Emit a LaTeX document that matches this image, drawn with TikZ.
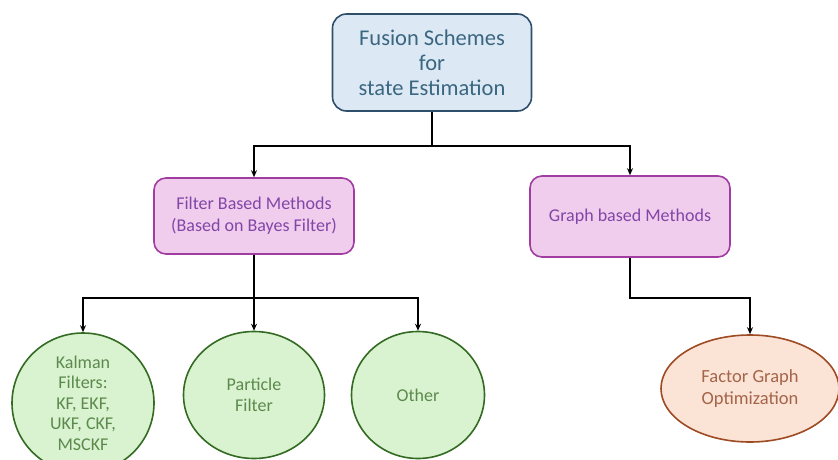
\documentclass[tikz,border=0pt]{standalone}
\usepackage{fontspec}
\setmainfont{Carlito}
\usetikzlibrary{arrows.meta,shapes.geometric}
\definecolor{topfill}{HTML}{DCE9F5}
\definecolor{topdraw}{HTML}{2F4F6B}
\definecolor{toptext}{HTML}{3A6680}
\definecolor{pinkfill}{HTML}{F0CDEC}
\definecolor{pinkdraw}{HTML}{A13DA0}
\definecolor{pinktext}{HTML}{8245A8}
\definecolor{greenfill}{HTML}{D9F2D0}
\definecolor{greendraw}{HTML}{336B22}
\definecolor{greentext}{HTML}{5C8A4C}
\definecolor{orfill}{HTML}{FBE3D6}
\definecolor{ordraw}{HTML}{9E4A22}
\definecolor{ortext}{HTML}{A4654A}
\tikzset{
  topbox/.style={draw=topdraw, fill=topfill, line width=1.6pt, rounded corners=14pt, minimum width=199pt, minimum height=97pt, text=toptext, font=\fontsize{22.5}{25}\selectfont, align=center, inner sep=0pt},
  pinkbox/.style={draw=pinkdraw, fill=pinkfill, line width=1.6pt, rounded corners=12pt, minimum width=200pt, text=pinktext, font=\fontsize{18}{22}\selectfont, align=center, inner sep=0pt},
  greenell/.style={ellipse, draw=greendraw, fill=greenfill, line width=1.6pt, text=greentext, font=\fontsize{18}{20.5}\selectfont, align=center, inner sep=0pt},
  orell/.style={ellipse, draw=ordraw, fill=orfill, line width=1.6pt, text=ortext, font=\fontsize{18.5}{22}\selectfont, align=center, inner sep=0pt},
  conn/.style={line width=1.8pt, -{Stealth[length=7pt,width=6pt]}},
  plain/.style={line width=1.8pt},
}
\begin{document}
\begin{tikzpicture}[x=1pt,y=-1pt]
\useasboundingbox (0,0) rectangle (838,460);
\clip (0,0) rectangle (838,460);
\node[topbox] (top) at (432,62.5) {Fusion Schemes\\for\\state Estimation};
\node[pinkbox, minimum height=76pt] (filter) at (254,216) {Filter Based Methods\\(Based on Bayes Filter)};
\node[pinkbox, minimum height=81pt] (graph) at (630,216.5) {Graph based Methods};
\node[greenell, minimum width=142pt, minimum height=140pt] (kalman) at (83,403) {Kalman\\Filters:\\KF, EKF,\\UKF, CKF,\\MSCKF};
\node[greenell, minimum width=141pt, minimum height=127pt] (particle) at (254,395) {Particle\\Filter};
\node[greenell, minimum width=133pt, minimum height=127pt] (other) at (418,395) {Other};
\node[orell, minimum width=178pt, minimum height=107pt] (factor) at (750,388.5) {Factor Graph\\Optimization};
\coordinate (j1) at ([yshift=-34pt]top.south);
\coordinate (j2) at ([yshift=-43pt]filter.south);
\coordinate (j3) at ([yshift=-40pt]graph.south);
\draw[plain] (top.south) -- (j1);
\draw[conn] (j1) -| (filter.north);
\draw[conn] (j1) -| (graph.north);
\draw[plain] (filter.south) -- (j2);
\draw[conn] (j2) -| (kalman.north);
\draw[conn] (j2) -- (particle.north);
\draw[conn] (j2) -| (other.north);
\draw[conn] (graph.south) -- (j3) -| (factor.north);
\end{tikzpicture}
\end{document}
